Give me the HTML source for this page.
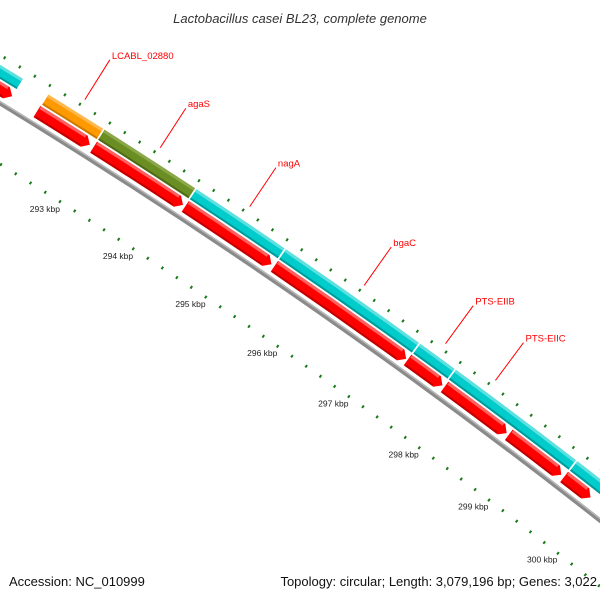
<!DOCTYPE html>
<html><head><meta charset="utf-8"><style>
body{margin:0;background:#fff;overflow:hidden}
svg{display:block;font-family:"Liberation Sans",sans-serif}
</style></head><body>
<svg id="chart" width="600" height="600" viewBox="0 0 600 600" xmlns="http://www.w3.org/2000/svg">
<rect width="600" height="600" fill="#fff"/>
<text x="300" y="23" text-anchor="middle" font-size="13" font-style="italic" fill="#333">Lactobacillus casei BL23, complete genome</text>
<g id="plot"></g>
<text x="9" y="586" font-size="13" fill="#111">Accession: NC_010999</text>
<text x="597" y="586" text-anchor="end" font-size="13" fill="#111">Topology: circular; Length: 3,079,196 bp; Genes: 3,022</text>
</svg>
<script>
// outer track genes (kbp)
const geneNames = ["prev-gene","LCABL_02880","agaS","nagA","bgaC","PTS-EIIB","PTS-EIIC","next-gene"];
const geneStarts = [291.0, 292.34, 293.09, 294.33, 295.55, 297.41, 297.91, 299.63];
const geneEnds   = [292.0, 293.07, 294.31, 295.53, 297.39, 297.89, 299.61, 301.0];
const geneColors = ["#00cccc","#ff9900","#6b8e23","#00cccc","#00cccc","#00cccc","#00cccc","#00cccc"];
// inner (CDS) track, arrows pointing forward
const cdsStarts = [291.0, 292.33, 293.09, 294.33, 295.55, 297.40, 297.92, 298.83, 299.62];
const cdsEnds   = [292.0, 293.04, 294.30, 295.51, 297.38, 297.89, 298.80, 299.58, 300.0];
// labels
const labelTexts = ["LCABL_02880","agaS","nagA","bgaC","PTS-EIIB","PTS-EIIC"];
const labelKbp = [292.72, 293.73, 294.94, 296.51, 297.64, 298.34];
const tickLabelKbp = [293,294,295,296,297,298,299,300];

const cx=-3248, cy=5414, RG=6225;
const ang = k => (-57.68 + (k-293)*0.8086)*Math.PI/180;
const pt = (r,k) => [cx + r*Math.cos(ang(k)), cy + r*Math.sin(ang(k))];
const NS="http://www.w3.org/2000/svg";
const plot=document.getElementById('plot');
function mk(tag, attrs){const e=document.createElementNS(NS,tag);for(const k in attrs)e.setAttribute(k,attrs[k]);plot.appendChild(e);return e;}
function f(p){return p[0].toFixed(2)+","+p[1].toFixed(2);}
function band(r1,r2,k1,k2){
  return "M"+f(pt(r2,k1))+" A"+r2+" "+r2+" 0 0 1 "+f(pt(r2,k2))+" L"+f(pt(r1,k2))+" A"+r1+" "+r1+" 0 0 0 "+f(pt(r1,k1))+" Z";
}
function arrow(r1,r2,k1,k2){
  const h=0.075, kb=Math.max(k1,k2-h), rm=(r1+r2)/2;
  return "M"+f(pt(r2,k1))+" A"+r2+" "+r2+" 0 0 1 "+f(pt(r2,kb))+" L"+f(pt(rm,k2))+" L"+f(pt(r1,kb))+" A"+r1+" "+r1+" 0 0 0 "+f(pt(r1,k1))+" Z";
}
// backbone
let e=mk('path',{d:band(RG-2,RG+2.5,290.5,302),fill:'#8a8a8a'});


e=mk('path',{d:band(RG+1,RG+2.5,290.5,302),fill:'#b8b8b8'});


// CDS track
cdsStarts.forEach((s,i)=>{
  const en=cdsEnds[i];
  let p=mk('path',{d:arrow(RG+6,RG+19,s,en),fill:'#f00'});
  
  
  let h=mk('path',{d:band(RG+16,RG+19,s+0.01,en-0.09),fill:'#ff6060'});
  
  
  let d=mk('path',{d:band(RG+6,RG+8,s+0.01,en-0.09),fill:'#c00000'});
  
  
});
// gene track
const lighter={"#00cccc":"#5fe0e0","#ff9900":"#ffb84d","#6b8e23":"#8aa84a"};
const darker={"#00cccc":"#009a9a","#ff9900":"#cc7a00","#6b8e23":"#4e6a18"};
geneStarts.forEach((s,i)=>{
  const en=geneEnds[i], c=geneColors[i];
  let p=mk('path',{d:band(RG+21,RG+33,s,en),fill:c});
  
  
  let h=mk('path',{d:band(RG+30,RG+33,s,en),fill:lighter[c]});
  
  
  let d=mk('path',{d:band(RG+21,RG+23,s,en),fill:darker[c]});
  
  
});
// tick rings
function tickLine(r1,r2,k,w,name){
  const a=pt(r1,k),b=pt(r2,k);
  const l=mk('line',{x1:a[0],y1:a[1],x2:b[0],y2:b[1],stroke:'#1a7a1a','stroke-width':w});
  
  
}
for(let j=2895;j<=3025;j+=2){
  const k=j/10, major=(j%10===0);
  if(major){tickLine(RG+38,RG+46,k,2,'outer-major-tick');tickLine(RG-56,RG-48,k,2,'inner-major-tick');}
  else{tickLine(RG+40,RG+43,k,2,'outer-minor-tick');tickLine(RG-53,RG-50,k,2,'inner-minor-tick');}
}
tickLabelKbp.forEach(k=>{
  const p=pt(RG-66,k);
  const t=mk('text',{x:p[0],y:p[1]+3,'text-anchor':'middle','font-size':'8.5',fill:'#222'});
  t.textContent=k+' kbp';
  
  
});
// gene labels
labelTexts.forEach((s,i)=>{
  const a=pt(RG+48,labelKbp[i]), b=pt(RG+95,labelKbp[i]);
  const l=mk('line',{x1:a[0],y1:a[1],x2:b[0],y2:b[1],stroke:'#f00','stroke-width':1});
  
  
  const t=mk('text',{x:b[0]+2,y:b[1]-1,'font-size':'9.5',fill:'#f00'});
  t.textContent=s;
  
  
});
</script>
</body></html>
